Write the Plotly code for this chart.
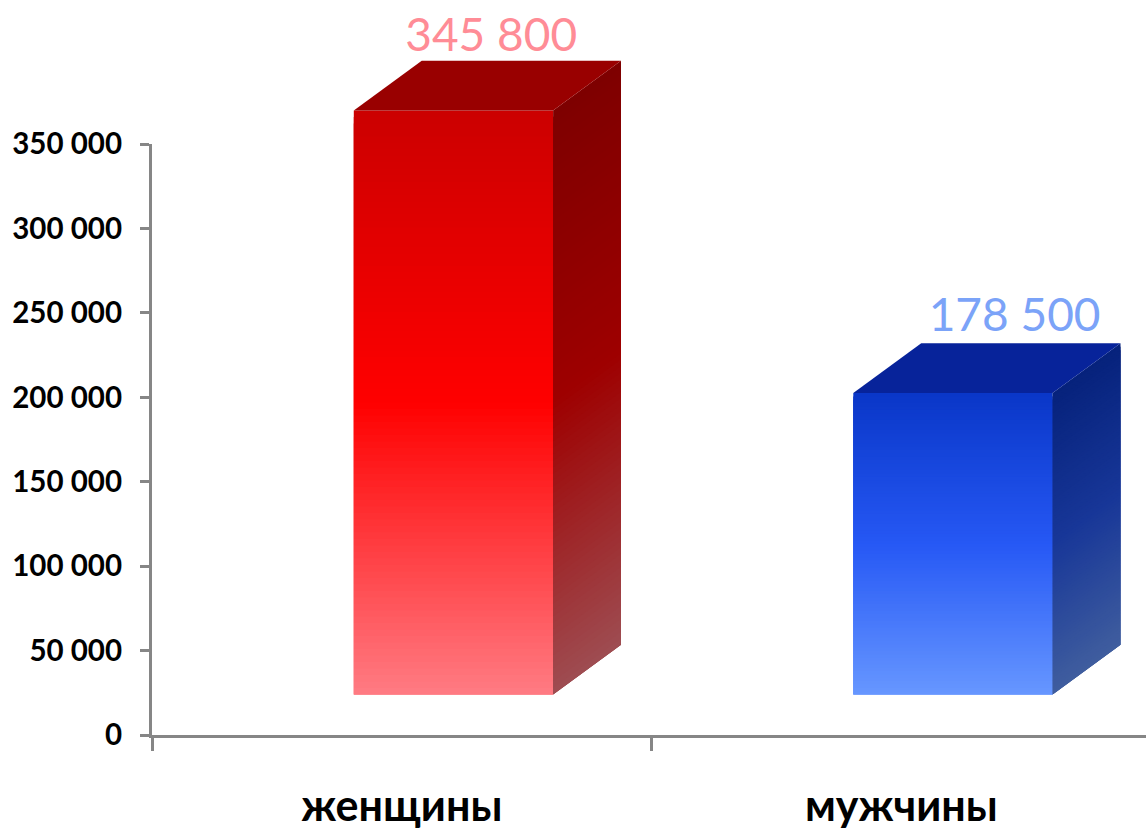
import plotly.graph_objects as go

categories = ["женщины", "мужчины"]
values = [345800, 178500]
value_labels = ["345 800", "178 500"]
y_ticks = [0, 50000, 100000, 150000, 200000, 250000, 300000, 350000]
y_tick_labels = ["0", "50 000", "100 000", "150 000", "200 000", "250 000", "300 000", "350 000"]

# Colour stops of the front-face gradient (top, middle, bottom), per bar
front_stops = [
    [(204, 0, 0), (255, 0, 0), (255, 122, 130)],
    [(10, 55, 200), (38, 88, 245), (102, 150, 255)],
]
top_colors = ["#990000", "#07239A"]
label_colors = ["#FF8C96", "#7BA3F8"]
side_shade = 0.62

# Geometry in axis units
X_LO, X_HI = -0.096, 0.303      # front face, relative to category centre
DEPTH_X = 0.136
BASE = 24000                    # floating base of the box
DEPTH_Y = 29500
STRIPS = 90
OVERLAP = 3                     # each strip runs under the next few, so no seams show
LABEL_DX = [0.179, 0.227]
LABEL_DY = [12500, 14000]
AXIS_PX, PLOT_PX = 591, 735     # visible value axis vs whole plot height
FONT = "Lato, 'Open Sans', sans-serif"
AXIS_GREY = "#868686"


def mix(stops, t):
    if t < 0.5:
        a, b, k = stops[0], stops[1], t / 0.5
    else:
        a, b, k = stops[1], stops[2], (t - 0.5) / 0.5
    return [a[i] + (b[i] - a[i]) * k for i in range(3)]


def css(c, f=1.0):
    return "rgb(%d,%d,%d)" % tuple(round(v * f) for v in c)


def poly(xs, ys, color):
    return go.Scatter(
        x=xs + xs[:1], y=ys + ys[:1], xaxis="x", yaxis="y2", mode="lines", fill="toself",
        fillcolor=color, line=dict(width=0), hoverinfo="skip", showlegend=False,
    )


fig = go.Figure()
# Carries the visible value axis; the boxes themselves live on the taller twin axis
fig.add_trace(go.Scatter(
    x=[0, 1], y=values, xaxis="x", yaxis="y", mode="markers", marker=dict(opacity=0),
    hoverinfo="skip", showlegend=False,
))
for i, v in enumerate(values):
    x0, x1 = i + X_LO, i + X_HI
    y0, y1 = BASE, BASE + v
    for s in range(STRIPS):
        t = s / (STRIPS - 1)
        ya = y1 - v * s / STRIPS
        yb = max(y0, y1 - v * (s + OVERLAP) / STRIPS)
        c = mix(front_stops[i], t)
        fig.add_trace(poly([x0, x1, x1, x0], [ya, ya, yb, yb], css(c)))
        fig.add_trace(poly(
            [x1, x1 + DEPTH_X, x1 + DEPTH_X, x1],
            [ya, ya + DEPTH_Y, yb + DEPTH_Y, yb],
            css(c, side_shade),
        ))
    fig.add_trace(poly(
        [x0, x1, x1 + DEPTH_X, x0 + DEPTH_X],
        [y1, y1, y1 + DEPTH_Y, y1 + DEPTH_Y],
        top_colors[i],
    ))
    fig.add_trace(go.Scatter(
        x=[i + LABEL_DX[i]], y=[y1 + DEPTH_Y + LABEL_DY[i]], xaxis="x", yaxis="y2",
        mode="text", text=[value_labels[i]], textposition="middle center",
        textfont=dict(family=FONT, size=46, color=label_colors[i]),
        hoverinfo="skip", showlegend=False,
    ))

fig.update_layout(
    width=1146, height=831,
    margin=dict(l=152, r=0, t=0, b=96, autoexpand=False),
    paper_bgcolor="white", plot_bgcolor="rgba(0,0,0,0)", showlegend=False,
    xaxis=dict(
        range=[-0.5, 1.49], tickmode="array", tickvals=[0, 1], ticktext=categories, anchor="y",
        ticks="", showgrid=False, zeroline=False, showline=True, linecolor=AXIS_GREY, linewidth=3,
        tickfont=dict(family=FONT, size=43, color="black", weight="bold"), ticklabelstandoff=31,
        minor=dict(tickmode="array", tickvals=[-0.5, 0.5, 1.5], ticks="outside", ticklen=13,
                   tickwidth=3, tickcolor=AXIS_GREY, showgrid=False),
    ),
    yaxis=dict(
        domain=[0, AXIS_PX / PLOT_PX], anchor="x",
        range=[0, 350000], tickmode="array", tickvals=y_ticks, ticktext=y_tick_labels,
        ticks="outside", ticklen=9, tickwidth=3, tickcolor=AXIS_GREY, showgrid=False, zeroline=False,
        showline=True, linecolor=AXIS_GREY, linewidth=3,
        tickfont=dict(family=FONT, size=29.5, color="black", weight="bold"), ticklabelstandoff=12,
    ),
    yaxis2=dict(
        domain=[0, 1], anchor="x", range=[0, 350000 * PLOT_PX / AXIS_PX], visible=False,
    ),
)
fig.write_html("out.html", config={"displayModeBar": False},
               post_script="document.body.style.margin='0';")
